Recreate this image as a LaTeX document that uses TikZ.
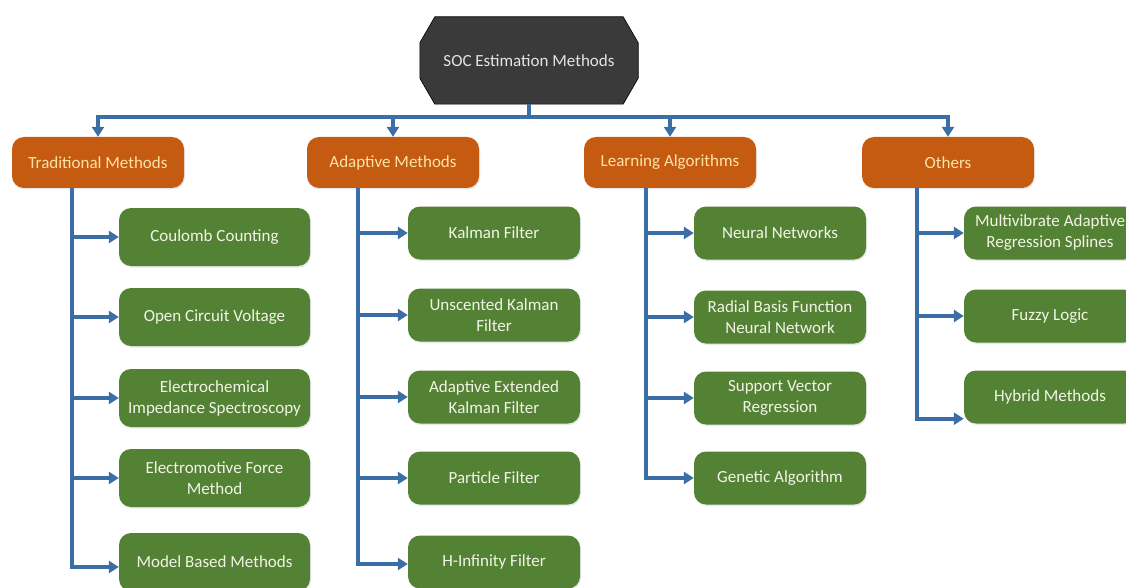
\documentclass[tikz,border=0pt]{standalone}
\usepackage{fontspec}
\setmainfont{Carlito}
\usetikzlibrary{arrows.meta,backgrounds,shadows}

\definecolor{rootfill}{HTML}{3A3A3A}
\definecolor{roottext}{HTML}{E4E4E4}
\definecolor{catfill}{HTML}{C55A11}
\definecolor{cattext}{HTML}{FFE3A6}
\definecolor{leaffill}{HTML}{548235}
\definecolor{leaftext}{HTML}{F2F4E6}
\definecolor{linkblue}{HTML}{3B6EA5}

\begin{document}
\begin{tikzpicture}[x=1pt,y=-1pt,
  every node/.style={font=\fontsize{17}{21}\selectfont, align=center, inner sep=0pt},
  softshadow/.style={drop shadow={opacity=0.18, shadow xshift=1pt, shadow yshift=-1.5pt}},
  catbox/.style={fill=catfill, text=cattext, rounded corners=12pt,
    minimum width=172pt, minimum height=51pt, softshadow},
  leafbox/.style={fill=leaffill, text=leaftext, rounded corners=12pt,
    minimum width=172pt, minimum height=53pt, softshadow},
  wideleaf/.style={leafbox, minimum width=191pt, minimum height=58pt},
  conn/.style={draw=linkblue, line width=3.6pt},
  arr/.style={conn, -{Triangle[length=10pt,width=12pt]}}
]
\useasboundingbox (0,0) rectangle (1126,588);
\clip (0,0) rectangle (1126,588);

% root
\node[text=roottext, minimum width=218pt, minimum height=87pt] (soc) at (529,60.5) {SOC Estimation Methods};
\begin{scope}[on background layer]
  \filldraw[fill=rootfill, draw=black, line width=0.6pt]
    ([xshift=15pt]soc.north west) -- ([xshift=-15pt]soc.north east)
    -- ([yshift=-26pt]soc.north east) -- ([yshift=26pt]soc.south east)
    -- ([xshift=-15pt]soc.south east) -- ([xshift=15pt]soc.south west)
    -- ([yshift=26pt]soc.south west) -- ([yshift=-26pt]soc.north west) -- cycle;
\end{scope}

% categories
\node[catbox] (trad) at (98,162.5)  {Traditional Methods};
\node[catbox] (adap) at (393,162.5) {Adaptive Methods};
\node[catbox] (lear) at (670,162.5) {Learning Algorithms};
\node[catbox] (oth)  at (948,162.5) {Others};

% traditional methods
\node[wideleaf] (t1) at (214.5,237) {Coulomb Counting};
\node[wideleaf] (t2) at (214.5,317) {Open Circuit Voltage};
\node[wideleaf] (t3) at (214.5,398) {Electrochemical\\Impedance Spectroscopy};
\node[wideleaf] (t4) at (214.5,478) {Electromotive Force\\Method};
\node[wideleaf] (t5) at (214.5,562) {Model Based Methods};

% adaptive methods
\node[leafbox] (a1) at (494,233) {Kalman Filter};
\node[leafbox] (a2) at (494,315) {Unscented Kalman\\Filter};
\node[leafbox] (a3) at (494,397) {Adaptive Extended\\Kalman Filter};
\node[leafbox] (a4) at (494,478) {Particle Filter};
\node[leafbox] (a5) at (494,562) {H-Infinity Filter};

% learning algorithms
\node[leafbox] (l1) at (780,233) {Neural Networks};
\node[leafbox] (l2) at (780,317) {Radial Basis Function\\Neural Network};
\node[leafbox] (l3) at (780,398) {Support Vector\\Regression};
\node[leafbox] (l4) at (780,478) {Genetic Algorithm};

% others
\node[leafbox] (o1) at (1050,233) {Multivibrate Adaptive\\Regression Splines};
\node[leafbox] (o2) at (1050,316) {Fuzzy Logic};
\node[leafbox] (o3) at (1050,397) {Hybrid Methods};

% root to categories
\coordinate (bus) at (529,117);
\draw[conn] (soc.south) -- (bus);
\draw[arr] (bus) -| (trad.north);
\draw[arr] (bus) -| (adap.north);
\draw[arr] (bus) -| (lear.north);
\draw[arr] (bus) -| (oth.north);

% trunks
\coordinate (tt) at ([xshift=60pt]trad.south west);
\coordinate (at) at ([xshift=51pt]adap.south west);
\coordinate (lt) at ([xshift=62pt]lear.south west);
\coordinate (ot) at ([xshift=55pt]oth.south west);

\draw[arr] (tt) |- ([yshift=-5pt]t5.west);
\foreach \n in {t1,t2,t3,t4} \draw[arr] (tt |- \n.west) -- (\n.west);

\draw[arr] (at) |- ([yshift=-2pt]a5.west);
\foreach \n in {a1,a2,a3,a4} \draw[arr] (at |- \n.west) -- (\n.west);

\draw[arr] (lt) |- (l4.west);
\foreach \n in {l1,l2,l3} \draw[arr] (lt |- \n.west) -- (\n.west);

\draw[arr] (ot) |- ([yshift=5pt]o3.south west);
\foreach \n in {o1,o2} \draw[arr] (ot |- \n.west) -- (\n.west);
\end{tikzpicture}
\end{document}
